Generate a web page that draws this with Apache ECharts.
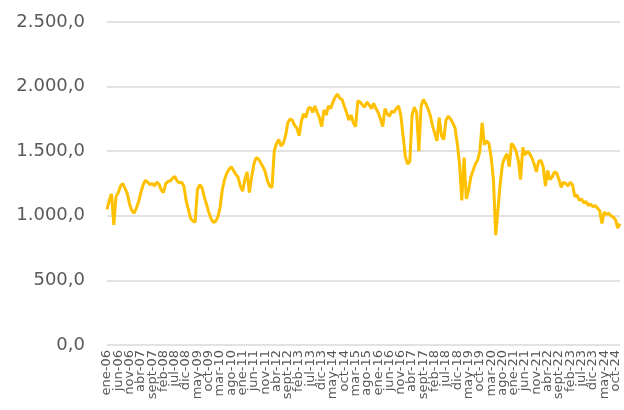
<!DOCTYPE html>
<html>
<head>
<meta charset="utf-8">
<script src="https://cdn.jsdelivr.net/npm/echarts@6/dist/echarts.min.js"></script>
<style>html,body{margin:0;padding:0;background:#fff}#c{width:624px;height:410px}</style>
</head>
<body>
<div id="c"></div>
<script>
const monthNames = ['ene','feb','mar','abr','may','jun','jul','ago','sept','oct','nov','dic'];
const years = [6,7,8,9,10,11,12,13,14,15,16,17,18,19,20,21,22,23,24];
const categories = [];
years.forEach(y => monthNames.forEach(m => categories.push(m + '-' + String(y).padStart(2,'0'))));

const v2006 = [1050,1120,1170,930,1150,1180,1230,1250,1210,1170,1090,1040];
const v2007 = [1020,1060,1110,1180,1240,1275,1260,1240,1250,1230,1260,1245];
const v2008 = [1200,1180,1250,1265,1270,1290,1305,1270,1255,1260,1230,1120];
const v2009 = [1050,980,960,950,1200,1240,1220,1150,1090,1030,980,950];
const v2010 = [955,990,1060,1200,1280,1330,1360,1380,1350,1320,1300,1230];
const v2011 = [1190,1280,1340,1180,1300,1400,1450,1440,1410,1380,1340,1270];
const v2012 = [1230,1220,1500,1560,1590,1540,1560,1620,1720,1750,1740,1700];
const v2013 = [1680,1620,1730,1790,1760,1830,1840,1800,1850,1800,1760,1690];
const v2014 = [1820,1780,1850,1830,1880,1920,1940,1910,1900,1850,1800,1740];
const v2015 = [1780,1720,1690,1890,1880,1860,1840,1880,1860,1830,1870,1830];
const v2016 = [1800,1750,1690,1830,1790,1770,1810,1800,1830,1850,1780,1620];
const v2017 = [1460,1400,1420,1780,1840,1800,1500,1850,1900,1870,1830,1780];
const v2018 = [1700,1640,1580,1760,1620,1590,1740,1770,1750,1720,1680,1560];
const v2019 = [1400,1120,1450,1130,1200,1300,1350,1400,1430,1500,1720,1550];
const v2020 = [1580,1560,1450,1280,850,1050,1250,1400,1450,1480,1380,1560];
const v2021 = [1540,1500,1430,1280,1530,1470,1500,1480,1450,1400,1340,1420];
const v2022 = [1430,1380,1230,1350,1280,1300,1340,1330,1280,1220,1260,1250];
const v2023 = [1230,1260,1240,1150,1160,1120,1130,1100,1110,1080,1090,1070];
const v2024 = [1080,1060,1040,940,1030,1010,1020,1000,990,970,905,940];
const values = [].concat(v2006,v2007,v2008,v2009,v2010,v2011,v2012,v2013,v2014,v2015,v2016,v2017,v2018,v2019,v2020,v2021,v2022,v2023,v2024);

const yTicks = [0,500,1000,1500,2000,2500];

function fmt(v){
  const parts = Math.abs(v).toFixed(1).split('.');
  const intPart = parts[0].replace(/\B(?=(\d{3})+(?!\d))/g,'.');
  return intPart + ',' + parts[1];
}

const xLabelStyle = {rotate:90,color:'#595959',fontSize:13,fontFamily:'DejaVu Sans',margin:5,hideOverlap:false};

function makeX(offsetIdx){
  return {
    type:'category',
    data:categories,
    boundaryGap:false,
    position:'bottom',
    axisLine:{show:false},
    axisTick:{show:false},
    splitLine:{show:false},
    axisLabel:Object.assign({}, xLabelStyle, {interval:function(i){return i % 10 === offsetIdx;}})
  };
}

const chart = echarts.init(document.getElementById('c'), null, {renderer:'canvas'});
chart.setOption({
  animation:false,
  backgroundColor:'#ffffff',
  grid:{left:107,right:4,top:22,bottom:65,containLabel:false},
  xAxis:[makeX(0), makeX(5)],
  yAxis:{
    type:'value',
    min:yTicks[0],
    max:yTicks[yTicks.length-1],
    interval:500,
    axisLine:{show:false},
    axisTick:{show:false},
    splitLine:{lineStyle:{color:'#d9d9d9',width:1.5}},
    axisLabel:{color:'#595959',fontSize:18,fontFamily:'DejaVu Sans',margin:22,formatter:fmt}
  },
  series:[{
    type:'line',
    xAxisIndex:0,
    data:values,
    showSymbol:false,
    symbol:'none',
    lineStyle:{color:'#FFC000',width:3},
    itemStyle:{color:'#FFC000'}
  }]
});
</script>
</body>
</html>
